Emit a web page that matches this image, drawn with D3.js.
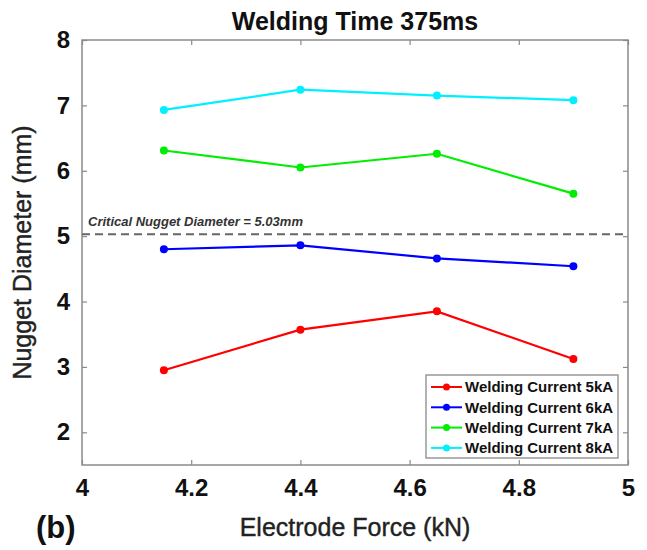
<!DOCTYPE html>
<html>
<head>
<meta charset="utf-8">
<script src="https://cdn.jsdelivr.net/npm/d3@7"></script>
<style>
  body { margin: 0; background: #fff; }
  text { font-family: "Liberation Sans", Arial, sans-serif; }
</style>
</head>
<body>
<div id="chart"></div>
<script>
// electrode force (kN) and nugget diameter (mm) per welding current
const forces = [4.15, 4.4, 4.65, 4.9];
const current5kA = [2.95, 3.57, 3.85, 3.12];
const current6kA = [4.80, 4.86, 4.66, 4.54];
const current7kA = [6.31, 6.05, 6.26, 5.65];
const current8kA = [6.93, 7.24, 7.15, 7.08];
const seriesNames = ['Welding Current 5kA', 'Welding Current 6kA', 'Welding Current 7kA', 'Welding Current 8kA'];
const xTicks = [4, 4.2, 4.4, 4.6, 4.8, 5];
const yTicks = [2, 3, 4, 5, 6, 7, 8];
const criticalDiameter = 5.03;

const colors = ['#ff0000', '#0000ff', '#00ee00', '#00f0ff'];
const allSeries = [current5kA, current6kA, current7kA, current8kA];

const margin = { top: 40, right: 19, bottom: 85, left: 82 },
      width = 647 - margin.left - margin.right,
      height = 550 - margin.top - margin.bottom;

const svg = d3.select("#chart")
              .append("svg")
              .attr("width", 647)
              .attr("height", 550);

const g = svg.append("g")
             .attr("transform", `translate(${margin.left},${margin.top})`);

const x = d3.scaleLinear().domain([4, 5]).range([0, width]);
const y = d3.scaleLinear().domain([1.5, 8]).range([height, 0]);

// box with inward ticks on all four sides, matlab style
const axisColor = '#8a8a8a';
function styleAxis(sel) {
    sel.select(".domain").remove();
    sel.selectAll(".tick line").attr("stroke", axisColor).attr("stroke-width", 1.2);
    sel.selectAll(".tick text")
       .attr("fill", "#111")
       .style("font-size", "24px")
       .style("font-weight", "bold");
}

g.append("g")
 .attr("transform", `translate(0,${height})`)
 .call(d3.axisBottom(x).tickValues(xTicks).tickFormat(d3.format("")).tickSizeInner(-5).tickPadding(14))
 .call(styleAxis);

g.append("g")
 .call(d3.axisTop(x).tickValues(xTicks).tickSizeInner(-5).tickFormat(""))
 .call(styleAxis);

g.append("g")
 .call(d3.axisLeft(y).tickValues(yTicks).tickFormat(d3.format("d")).tickSizeInner(-5).tickPadding(12))
 .call(styleAxis);

g.append("g")
 .attr("transform", `translate(${width},0)`)
 .call(d3.axisRight(y).tickValues(yTicks).tickSizeInner(-5).tickFormat(""))
 .call(styleAxis);

g.append("rect")
 .attr("width", width)
 .attr("height", height)
 .attr("fill", "none")
 .attr("stroke", axisColor)
 .attr("stroke-width", 1.5);

// critical nugget diameter
g.append("line")
 .attr("x1", 0).attr("x2", width)
 .attr("y1", y(criticalDiameter)).attr("y2", y(criticalDiameter))
 .attr("stroke", "#666")
 .attr("stroke-width", 2)
 .attr("stroke-dasharray", "8,5");

g.append("text")
 .attr("x", 6)
 .attr("y", y(criticalDiameter) - 8)
 .style("font-size", "13px")
 .style("font-weight", "bold")
 .style("font-style", "italic")
 .attr("fill", "#333")
 .text(`Critical Nugget Diameter = ${criticalDiameter}mm`);

const line = d3.line()
               .x((d, i) => x(forces[i]))
               .y(d => y(d));

allSeries.forEach((vals, k) => {
    g.append("path")
     .datum(vals)
     .attr("fill", "none")
     .attr("stroke", colors[k])
     .attr("stroke-width", 2.2)
     .attr("d", line);

    g.selectAll(null)
     .data(vals)
     .enter()
     .append("circle")
     .attr("cx", (d, i) => x(forces[i]))
     .attr("cy", d => y(d))
     .attr("r", 4)
     .attr("fill", colors[k]);
});

// legend
const legend = g.append("g").attr("transform", `translate(${width - 202},${height - 90})`);
legend.append("rect")
      .attr("width", 192)
      .attr("height", 83)
      .attr("fill", "#fff")
      .attr("stroke", "#999")
      .attr("stroke-width", 1.5);

seriesNames.forEach((name, k) => {
    const ly = 12 + k * 20.3;
    legend.append("line")
          .attr("x1", 5).attr("x2", 36)
          .attr("y1", ly).attr("y2", ly)
          .attr("stroke", colors[k])
          .attr("stroke-width", 2);
    legend.append("circle")
          .attr("cx", 20.5).attr("cy", ly).attr("r", 3.5)
          .attr("fill", colors[k]);
    legend.append("text")
          .attr("x", 39)
          .attr("y", ly)
          .attr("dy", "0.35em")
          .style("font-size", "15px")
          .style("font-weight", "bold")
          .attr("fill", "#111")
          .text(name);
});

// titles
svg.append("text")
   .attr("x", margin.left + width / 2)
   .attr("y", 30)
   .attr("text-anchor", "middle")
   .style("font-size", "25px")
   .style("font-weight", "bold")
   .attr("fill", "#111")
   .text("Welding Time 375ms");

svg.append("text")
   .attr("x", margin.left + width / 2)
   .attr("y", 536)
   .attr("text-anchor", "middle")
   .style("font-size", "25px")
   .attr("fill", "#222")
   .attr("stroke", "#222")
   .attr("stroke-width", 0.4)
   .text("Electrode Force (kN)");

svg.append("text")
   .attr("transform", `translate(31,${margin.top + height / 2}) rotate(-90)`)
   .attr("text-anchor", "middle")
   .style("font-size", "25px")
   .attr("fill", "#222")
   .attr("stroke", "#222")
   .attr("stroke-width", 0.4)
   .text("Nugget Diameter (mm)");

svg.append("text")
   .attr("x", 36)
   .attr("y", 538)
   .style("font-size", "31px")
   .style("font-weight", "bold")
   .attr("fill", "#111")
   .text("(b)");
</script>
</body>
</html>
